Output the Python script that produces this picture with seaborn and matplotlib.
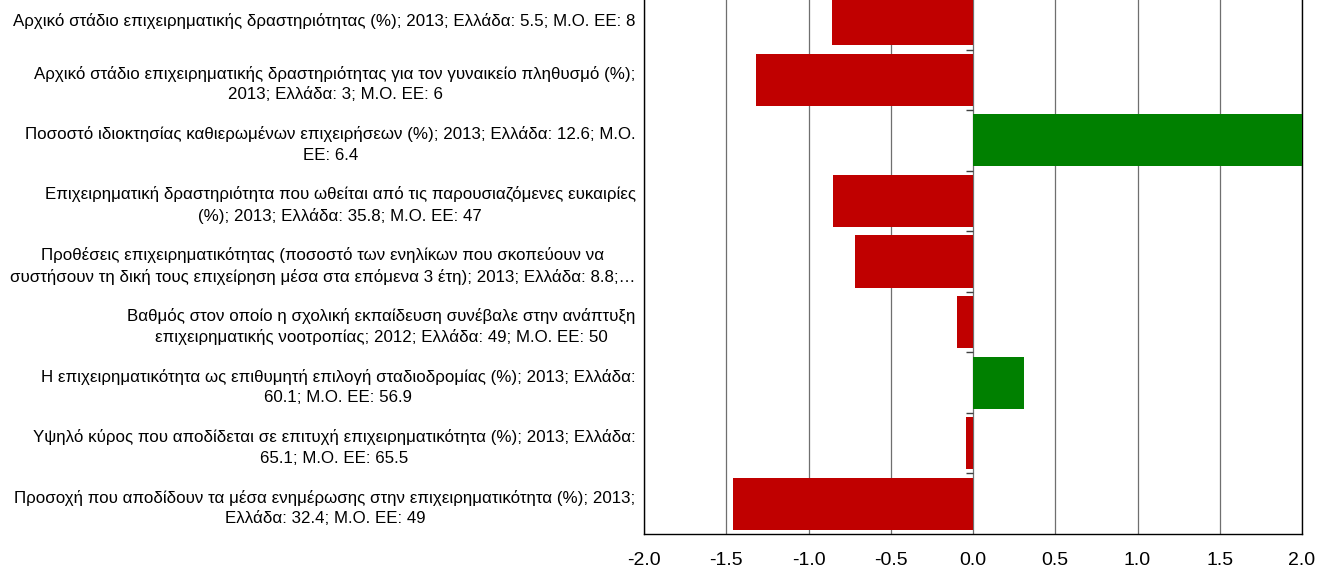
import matplotlib
matplotlib.use("Agg")
import matplotlib.pyplot as plt
import seaborn as sns
import pandas as pd

labels = [
    "Αρχικό στάδιο επιχειρηματικής δραστηριότητας (%); 2013; Ελλάδα: 5.5; Μ.Ο. ΕΕ: 8",
    "Αρχικό στάδιο επιχειρηματικής δραστηριότητας για τον γυναικείο πληθυσμό (%);\n2013; Ελλάδα: 3; Μ.Ο. ΕΕ: 6",
    "Ποσοστό ιδιοκτησίας καθιερωμένων επιχειρήσεων (%); 2013; Ελλάδα: 12.6; Μ.Ο.\nΕΕ: 6.4",
    "Επιχειρηματική δραστηριότητα που ωθείται από τις παρουσιαζόμενες ευκαιρίες\n(%); 2013; Ελλάδα: 35.8; Μ.Ο. ΕΕ: 47",
    "Προθέσεις επιχειρηματικότητας (ποσοστό των ενηλίκων που σκοπεύουν να\nσυστήσουν τη δική τους επιχείρηση μέσα στα επόμενα 3 έτη); 2013; Ελλάδα: 8.8;…",
    "Βαθμός στον οποίο η σχολική εκπαίδευση συνέβαλε στην ανάπτυξη\nεπιχειρηματικής νοοτροπίας; 2012; Ελλάδα: 49; Μ.Ο. ΕΕ: 50",
    "Η επιχειρηματικότητα ως επιθυμητή επιλογή σταδιοδρομίας (%); 2013; Ελλάδα:\n60.1; Μ.Ο. ΕΕ: 56.9",
    "Υψηλό κύρος που αποδίδεται σε επιτυχή επιχειρηματικότητα (%); 2013; Ελλάδα:\n65.1; Μ.Ο. ΕΕ: 65.5",
    "Προσοχή που αποδίδουν τα μέσα ενημέρωσης στην επιχειρηματικότητα (%); 2013;\nΕλλάδα: 32.4; Μ.Ο. ΕΕ: 49",
]
values = [-0.86, -1.32, 2.0, -0.85, -0.72, -0.10, 0.31, -0.04, -1.46]
xticks = [-2.0, -1.5, -1.0, -0.5, 0.0, 0.5, 1.0, 1.5, 2.0]

sns.set_style("white")
plt.rcParams["font.family"] = ["Liberation Sans", "DejaVu Sans"]
plt.rcParams["axes.unicode_minus"] = False
plt.rcParams["text.color"] = "black"
plt.rcParams["xtick.color"] = "black"
plt.rcParams["ytick.color"] = "black"

df = pd.DataFrame({"label": labels, "value": values})
df["colour"] = ["#C00000" if v < 0 else "#008000" for v in values]

fig = plt.figure(figsize=(13.27, 5.71), dpi=100)
ax = fig.add_axes([0.4853, 0.0648, 0.4959, 0.9545])

sns.barplot(data=df, y="label", x="value", hue="label",
            palette=dict(zip(df["label"], df["colour"])), saturation=1,
            orient="h", width=0.86, legend=False, linewidth=0,
            ax=ax, zorder=3)

ax.set_xlim(-2, 2)
ax.set_ylim(len(labels) - 0.5, -0.5)
ax.set_xticks(xticks)
ax.set_xticklabels([f"{t:.1f}" for t in xticks], fontsize=14, color="black")
ax.xaxis.grid(True, color="#6f6f6f", linewidth=0.9, zorder=0)
ax.set_axisbelow(True)
ax.tick_params(axis="x", length=0, pad=13)
ax.tick_params(axis="y", length=0, pad=6)
for t in ax.get_yticklabels():
    t.set_fontsize(12.2)
    t.set_color("black")
    t.set_multialignment("center")
    t.set_linespacing(1.45)
ax.set_xlabel("")
ax.set_ylabel("")

# small tick marks on the zero axis between categories
for k in range(len(labels) - 1):
    ax.hlines(k + 0.5, -0.04, 0, color="#404040", linewidth=1, zorder=4)

for side in ["left", "bottom", "right"]:
    ax.spines[side].set_color("black")
    ax.spines[side].set_linewidth(1)
ax.spines["top"].set_visible(False)

fig.savefig("out.png", dpi=100)
